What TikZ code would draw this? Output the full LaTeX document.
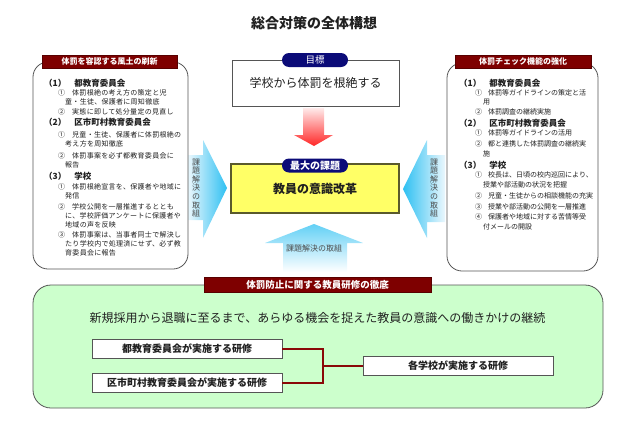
\documentclass[tikz,border=0pt]{standalone}
\usepackage{fontspec}
\setmainfont{Noto Sans CJK JP}
\usepackage{tikz}
\usetikzlibrary{positioning, calc}

\definecolor{hdrred}{HTML}{7E0000}
\definecolor{pillnavy}{HTML}{0B0B78}
\definecolor{framegray}{HTML}{555555}
\definecolor{bggreen}{HTML}{CCFFCC}
\definecolor{keyyellow}{HTML}{FFFF66}
\definecolor{keyolive}{HTML}{5A5A2C}
\definecolor{arrowblue}{HTML}{2EC0F2}
\definecolor{paleblue}{HTML}{EAF7FD}
\definecolor{linkred}{HTML}{8A0808}
\definecolor{txtgray}{HTML}{202020}

\begin{document}
\begin{tikzpicture}[x=1pt, y=-1pt,
                panel/.style={draw=framegray, line width=0.8pt, fill=white, rounded corners=15pt},
                header/.style={draw=hdrred!70!black, fill=hdrred, text=white, font=\bfseries\fontsize{8}{9}\selectfont, minimum height=13pt, inner sep=1pt},
                pill/.style={fill=pillnavy, text=white, rounded corners=7pt, minimum width=66pt, minimum height=14pt, inner sep=1pt},
                head/.style={anchor=west, inner sep=0pt, text=txtgray, font=\bfseries\fontsize{8.5}{9}\selectfont},
                item/.style={anchor=west, inner sep=0pt, text=txtgray, font=\fontsize{7}{8}\selectfont},
                litem/.style={item, font=\fontsize{7}{8}\selectfont\addfontfeatures{LetterSpace=4}},
                vtext/.style={align=center, inner sep=0pt, text=txtgray!80, font=\fontsize{8}{8.6}\selectfont},
                course/.style={draw=framegray, fill=white, minimum width=190pt, minimum height=19pt, inner sep=1pt, text=txtgray, font=\bfseries\fontsize{10}{11}\selectfont},
                link/.style={draw=linkred, line width=2pt},
            ]
            \useasboundingbox (0,0) rectangle (640,426);

            % Title:
            \node[text=txtgray, font=\bfseries\fontsize{14}{15}\selectfont] (title) at (314,23) {総合対策の全体構想};

            % Goal and key issue in the middle:
            \node[draw=framegray, line width=0.8pt, minimum width=167pt, minimum height=46pt, text=txtgray, font=\fontsize{12}{13}\selectfont] (goal) at (315.5,83) {学校から体罰を根絶する};
            \node[pill, font=\fontsize{9.5}{10}\selectfont] (goalpill) at (315,60) {目標};
            \shade[top color=red!8, bottom color=red!85] (303,108) -- (324,108) -- (324,135) -- (333,135) -- (314,146) -- (294,135) -- (303,135) -- cycle;
            \node[draw=keyolive, line width=1.8pt, fill=keyyellow, minimum width=168pt, minimum height=49pt, text=txtgray, font=\bfseries\fontsize{12}{13}\selectfont] (key) at (315,188.5) {教員の意識改革};
            \node[pill, font=\bfseries\fontsize{10}{11}\selectfont] (keypill) at (315,165.5) {最大の課題};

            % Arrows of the measures pointing toward the key issue:
            \shade[left color=paleblue, right color=arrowblue] (188,155) -- (203,155) -- (203,140) -- (227,188) -- (203,238) -- (203,220) -- (188,220) -- cycle;
            \shade[left color=arrowblue, right color=paleblue] (445,155) -- (427,155) -- (427,140) -- (403,189) -- (427,238) -- (427,222) -- (445,222) -- cycle;
            \shade[top color=arrowblue!75, bottom color=white] (314,224) -- (363,243) -- (347,243) -- (347,272) -- (283,272) -- (283,243) -- (265,243) -- cycle;
            \node[vtext] (solL) at (196,188) {課\\題\\解\\決\\の\\取\\組};
            \node[vtext] (solR) at (434,188) {課\\題\\解\\決\\の\\取\\組};
            \node[inner sep=0pt, text=txtgray!80, font=\fontsize{8}{9}\selectfont] (solB) at (314,248) {課題解決の取組};

            % Left panel:
            \node[panel, minimum width=155pt, minimum height=207pt] (leftbg) at (110.5,165.5) {};
            \node[header, minimum width=135pt] (lefthdr) at (109.5,61.5) {体罰を容認する風土の刷新};
            \node[head] (lh1) at (44,83) {（1）\hspace{8pt}都教育委員会};
            \node[litem] (li1) at (58,93) {①\quad 体罰根絶の考え方の策定と児};
            \node[litem] (lc1) at (65,102) {童・生徒、保護者に周知徹底};
            \node[litem] (li2) at (58,112) {②\quad 実態に即して処分量定の見直し};
            \node[head] (lh2) at (44,122) {（2）\hspace{8pt}区市町村教育委員会};
            \node[litem] (li3) at (58,135) {①\quad 児童・生徒、保護者に体罰根絶の};
            \node[litem] (lc3) at (65,144) {考え方を周知徹底};
            \node[litem] (li4) at (58,156) {②\quad 体罰事案を必ず都教育委員会に};
            \node[litem] (lc4) at (65,165) {報告};
            \node[head] (lh3) at (44,176) {（3）\hspace{8pt}学校};
            \node[litem] (li5) at (58,187) {①\quad 体罰根絶宣言を、保護者や地域に};
            \node[litem] (lc5) at (65,196) {発信};
            \node[litem] (li6) at (58,207) {②\quad 学校公開を一層推進するととも};
            \node[litem] (lc6a) at (65,216) {に、学校評価アンケートに保護者や};
            \node[litem] (lc6b) at (65,225) {地域の声を反映};
            \node[litem] (li7) at (58,235) {③\quad 体罰事案は、当事者同士で解決し};
            \node[litem] (lc7a) at (65,244) {たり学校内で処理済にせず、必ず教};
            \node[litem] (lc7b) at (65,253) {育委員会に報告};

            % Right panel:
            \node[panel, minimum width=151pt, minimum height=208pt] (rightbg) at (522.5,167) {};
            \node[header, minimum width=136pt] (righthdr) at (523,61.5) {体罰チェック機能の強化};
            \node[head] (rh1) at (459,83) {（1）\hspace{8pt}都教育委員会};
            \node[item] (ri1) at (475,93) {①\hspace{6pt}体罰等ガイドラインの策定と活};
            \node[item] (rc1) at (483,102) {用};
            \node[item] (ri2) at (475,112) {②\hspace{6pt}体罰調査の継続実施};
            \node[head] (rh2) at (459,123) {（2）\hspace{8pt}区市町村教育委員会};
            \node[item] (ri3) at (475,133) {①\hspace{6pt}体罰等ガイドラインの活用};
            \node[item] (ri4) at (475,144) {②\hspace{6pt}都と連携した体罰調査の継続実};
            \node[item] (rc4) at (483,154) {施};
            \node[head] (rh3) at (459,165) {（3）\hspace{8pt}学校};
            \node[item] (ri5) at (475,175) {①\hspace{6pt}校長は、日頃の校内巡回により、};
            \node[item] (rc5) at (483,185) {授業や部活動の状況を把握};
            \node[item] (ri6) at (475,196) {②\hspace{6pt}児童・生徒からの相談機能の充実};
            \node[item] (ri7) at (475,207) {③\hspace{6pt}授業や部活動の公開を一層推進};
            \node[item] (ri8) at (475,217) {④\hspace{6pt}保護者や地域に対する苦情等受};
            \node[item] (rc8) at (483,227) {付メールの開設};

            % Training panel at the bottom:
            \node[draw=framegray, line width=0.8pt, fill=bggreen, rounded corners=18pt, minimum width=570pt, minimum height=123pt] (trainbg) at (318,346.5) {};
            \node[header, minimum width=227pt, minimum height=15pt, font=\bfseries\fontsize{9.5}{10}\selectfont] (trainhdr) at (317.5,284.5) {体罰防止に関する教員研修の徹底};
            \node[text=txtgray, font=\fontsize{12}{13}\selectfont] (motto) at (317.5,318) {新規採用から退職に至るまで、あらゆる機会を捉えた教員の意識への働きかけの継続};
            \node[course] (trA) at (187,349) {都教育委員会が実施する研修};
            \node[course] (trB) at (187,383) {区市町村教育委員会が実施する研修};
            \node[course] (trC) at (458,366) {各学校が実施する研修};

            % Links of the courses:
            \coordinate (jn) at (323,366);
            \draw[link] (trA.east) -| (jn);
            \draw[link] (trB.east) -| (jn);
            \draw[link] (jn) -- (trC.west);
        \end{tikzpicture}
\end{document}
